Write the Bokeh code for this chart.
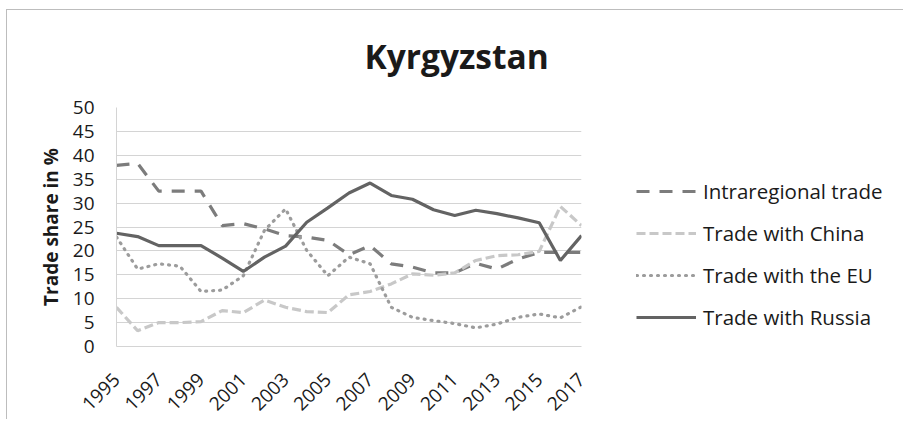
import math
from bokeh.plotting import figure
from bokeh.models import Range1d, FixedTicker, Legend, LegendItem, Title
from bokeh.embed import file_html
from bokeh.resources import INLINE

# ---- data ----
years = list(range(1995, 2018))
tick_years = years[::2]
intraregional = [37.9, 38.3, 32.5, 32.5, 32.5, 25.3, 25.7, 24.6, 23.2, 22.9, 22.2, 19.2,
                 21.1, 17.3, 16.6, 15.4, 15.4, 17.4, 16.2, 18.3, 19.7, 19.7, 19.7]
china = [8.2, 3.3, 5.0, 5.0, 5.2, 7.5, 7.1, 9.7, 8.2, 7.3, 7.1, 10.8,
         11.5, 13.1, 15.2, 14.9, 15.4, 18.0, 19.0, 19.2, 19.9, 29.3, 25.3]
eu = [22.9, 16.2, 17.3, 16.8, 11.5, 11.8, 14.8, 24.3, 28.8, 20.1, 14.8, 18.7,
      17.3, 8.2, 6.1, 5.4, 4.8, 3.9, 4.7, 6.1, 6.8, 6.0, 8.3]
russia = [23.7, 23.0, 21.1, 21.1, 21.1, 18.5, 15.7, 18.7, 21.0, 26.0, 29.0, 32.1,
          34.2, 31.6, 30.8, 28.6, 27.4, 28.5, 27.8, 26.9, 25.9, 18.0, 23.2]
series_names = ["Intraregional trade", "Trade with China", "Trade with the EU", "Trade with Russia"]
y_ticks = list(range(0, 51, 5))

FONT = "Open Sans"
BORDER = "#bdbdbd"

p = figure(
    frame_width=465, frame_height=239,
    min_border_left=116, min_border_right=300, min_border_top=107, min_border_bottom=70,
    x_range=Range1d(1995, 2017), y_range=Range1d(0, 50),
    output_backend="svg", toolbar_location=None,
    styles={
        "background-image": f"linear-gradient({BORDER}, {BORDER}), linear-gradient({BORDER}, {BORDER})",
        "background-size": "100% 1px, 1px 100%",
        "background-position": "6px 9px, 6px 9px",
        "background-repeat": "no-repeat",
    },
)
p.outline_line_color = None
p.background_fill_color = "white"
p.border_fill_color = None

p.title = Title(text="Kyrgyzstan", align="left", offset=248, standoff=58,
                text_font=FONT, text_font_size="33.5px", text_font_style="bold",
                text_color="#1a1a1a")

# axes
p.xaxis.ticker = FixedTicker(ticks=tick_years)
p.xaxis.major_label_orientation = math.pi / 4
p.xaxis.major_label_text_font = FONT
p.xaxis.major_label_text_font_size = "19px"
p.xaxis.major_label_text_color = "#1a1a1a"
p.xaxis.major_tick_line_color = None
p.xaxis.minor_tick_line_color = None
p.xaxis.axis_line_color = "#d4d4d4"
p.xaxis.major_label_standoff = 24

p.yaxis.ticker = FixedTicker(ticks=y_ticks)
p.yaxis.major_label_text_font = FONT
p.yaxis.major_label_text_font_size = "19px"
p.yaxis.major_label_text_color = "#1a1a1a"
p.yaxis.major_tick_line_color = None
p.yaxis.minor_tick_line_color = None
p.yaxis.axis_line_color = "#d4d4d4"
p.yaxis.major_label_standoff = 16
p.yaxis.axis_label = "Trade share in %"
p.yaxis.axis_label_text_font = FONT
p.yaxis.axis_label_text_font_size = "19px"
p.yaxis.axis_label_text_font_style = "bold"
p.yaxis.axis_label_text_color = "#1a1a1a"
p.yaxis.axis_label_standoff = 6

p.xgrid.grid_line_color = None
p.ygrid.grid_line_color = "#d4d4d4"
p.ygrid.grid_line_width = 1

r1 = p.line(years, intraregional, line_color="#7c7c7c", line_width=3.2, line_dash="13 10")
r2 = p.line(years, china, line_color="#c8c8c8", line_width=3.2, line_dash="9 4")
r3 = p.line(years, eu, line_color="#9c9c9c", line_width=3.2, line_dash="1 6", line_cap="round")
r4 = p.line(years, russia, line_color="#636363", line_width=3.2)

legend = Legend(
    items=[LegendItem(label=n, renderers=[r]) for n, r in zip(series_names, [r1, r2, r3, r4])],
    location=(55, 15), margin=0, padding=0,
    glyph_width=60, glyph_height=20, label_height=20, spacing=14, label_standoff=7,
    label_text_font=FONT, label_text_font_size="20.5px", label_text_color="#1a1a1a",
    border_line_color=None, background_fill_alpha=0,
)
p.add_layout(legend, "right")

open("out.html", "w").write(file_html(p, INLINE))
